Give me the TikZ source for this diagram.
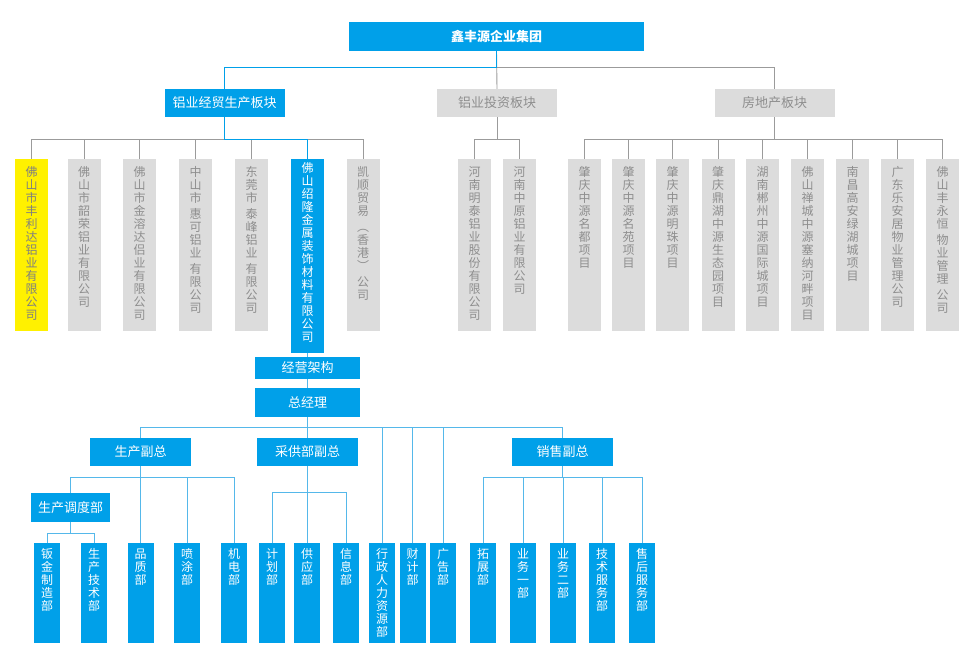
\documentclass[tikz,border=0pt]{standalone}
\usepackage{fontspec}
\newfontfamily\cjk{Noto Sans CJK SC}
\usepackage{xcolor}
\usepackage{tikz}
\definecolor{xfblue}{HTML}{00A0E9}
\definecolor{xfline}{HTML}{55B8EA}
\definecolor{xfgray}{HTML}{DCDCDC}
\definecolor{xfgtext}{HTML}{8E8E8E}
\definecolor{xfgline}{HTML}{9B9B9B}
\definecolor{xfyellow}{HTML}{FFF100}
\def\vgapmark{|}
\makeatletter
\newcommand\vtxt[1]{\vtop{\baselineskip=13pt\lineskiplimit=-20pt
    \@tfor\vch:=#1\do{\ifx\vch\vgapmark\vskip3pt\else\hbox to 12pt{\hss\vch\hss}\fi}}}
\makeatother
\tikzset{
    topbox/.style={fill=xfblue, text=white, inner sep=0pt, font=\cjk\bfseries\fontsize{13}{15}\selectfont},
    bluebox/.style={fill=xfblue, text=white, inner sep=0pt, minimum width=120pt, minimum height=28pt, font=\cjk\fontsize{13}{15}\selectfont},
    graybox/.style={bluebox, fill=xfgray, text=xfgtext},
    gvert/.style={fill=xfgray, text=xfgtext, anchor=north, inner sep=0pt, minimum width=33pt, text height=17pt, text depth=155pt, font=\cjk\fontsize{12}{13}\selectfont},
    yvert/.style={gvert, fill=xfyellow, text=xfgtext!90!black},
    bvert/.style={gvert, fill=xfblue, text=white, text height=13pt, text depth=181pt},
    dvert/.style={fill=xfblue, text=white, anchor=north, inner sep=0pt, minimum width=26pt, text height=15pt, text depth=85pt, font=\cjk\fontsize{12}{13}\selectfont},
    gline/.style={draw=xfgline, line width=0.9pt},
    bline/.style={draw=xfblue, line width=0.9pt},
    lline/.style={draw=xfline, line width=0.9pt}
}

\begin{document}
\begin{tikzpicture}[x=1pt,y=-1pt]
        \useasboundingbox (0,0) rectangle (976,664);
        % group and divisions
        \node[topbox, minimum width=295pt, minimum height=29pt] (grp) at (496.5,36.5) {鑫丰源企业集团};
        \node[bluebox] (alu) at (224.5,103) {铝业经贸生产板块};
        \node[graybox] (inv) at (497,103) {铝业投资板块};
        \node[graybox] (est) at (774.5,103) {房地产板块};

        \node[yvert] (c1) at (31.5,159) {\vtxt{佛山市丰利达铝业有限公司}};
        \node[gvert] (c2) at (84,159) {\vtxt{佛山市韶荣铝业有限公司}};
        \node[gvert] (c3) at (139.5,159) {\vtxt{佛山市金溶达侣业有限公司}};
        \node[gvert] (c4) at (195.5,159) {\vtxt{中山市|惠可铝业|有限公司}};
        \node[gvert] (c5) at (251.5,159) {\vtxt{东莞市|泰峰铝业|有限公司}};
        \node[bvert] (c6) at (307.5,159) {\vtxt{佛山绍隆金属装饰材料有限公司}};
        \node[gvert] (c7) at (363,159) {\vtxt{凯顺贸易|︵香港︶|公司}};

        \node[gvert] (d1) at (474.5,159) {\vtxt{河南明泰铝业股份有限公司}};
        \node[gvert] (d2) at (519.5,159) {\vtxt{河南中原铝业有限公司}};

        \node[gvert] (e1) at (584.5,159) {\vtxt{肇庆中源名都项目}};
        \node[gvert] (e2) at (628.5,159) {\vtxt{肇庆中源名苑项目}};
        \node[gvert] (e3) at (672.5,159) {\vtxt{肇庆中源明珠项目}};
        \node[gvert] (e4) at (718,159) {\vtxt{肇庆鼎湖中源生态园项目}};
        \node[gvert] (e5) at (762.5,159) {\vtxt{湖南郴州中源国际城项目}};
        \node[gvert] (e6) at (807.5,159) {\vtxt{佛山禅城中源塞纳河畔项目}};
        \node[gvert] (e7) at (852.5,159) {\vtxt{南昌高安绿湖城项目}};
        \node[gvert] (e8) at (897.5,159) {\vtxt{广东乐安居物业管理公司}};
        \node[gvert] (e9) at (942.5,159) {\vtxt{佛山丰永恒|物业管理|公司}};

        \draw[gline] (grp.south) -- ++(0,16) -| (est.north);
        \draw[gline] (grp.south) -- (inv.north);
        \draw[bline] (grp.south) -- ++(0,16) -| (alu.north);
        \foreach \c in {c1,c2,c3,c4,c5,c7}
            \draw[gline] (alu.south) -- ++(0,22) -| (\c.north);
        \draw[bline] (alu.south) -- ++(0,22) -| (c6.north);
        \foreach \c in {d1,d2}
            \draw[gline] (inv.south) -- ++(0,22) -| (\c.north);
        \foreach \c in {e1,e2,e3,e4,e5,e6,e7,e8,e9}
            \draw[gline] (est.south) -- ++(0,22) -| (\c.north);

        % management structure
        \node[bluebox, minimum width=105pt, minimum height=22pt] (ops) at (307.5,368) {经营架构};
        \node[bluebox, minimum width=105pt, minimum height=29pt] (gm) at (307.5,402.5) {总经理};
        \node[bluebox, minimum width=101pt] (vp1) at (140.5,452) {生产副总};
        \node[bluebox, minimum width=101pt] (vp2) at (307.5,452) {采供部副总};
        \node[bluebox, minimum width=101pt] (vp3) at (562.5,452) {销售副总};
        \node[bluebox, minimum width=79pt, minimum height=29pt] (sch) at (70.5,507.5) {生产调度部};

        \node[dvert] (f1) at (47,543) {\vtxt{钣金制造部}};
        \node[dvert] (f2) at (94,543) {\vtxt{生产技术部}};
        \node[dvert] (f3) at (140.5,543) {\vtxt{品质部}};
        \node[dvert] (f4) at (187,543) {\vtxt{喷涂部}};
        \node[dvert] (f5) at (234,543) {\vtxt{机电部}};
        \node[dvert] (f6) at (272,543) {\vtxt{计划部}};
        \node[dvert] (f7) at (307,543) {\vtxt{供应部}};
        \node[dvert] (f8) at (346,543) {\vtxt{信息部}};
        \node[dvert] (f9) at (382,543) {\vtxt{行政人力资源部}};
        \node[dvert] (f10) at (412.5,543) {\vtxt{财计部}};
        \node[dvert] (f11) at (443,543) {\vtxt{广告部}};
        \node[dvert] (f12) at (483,543) {\vtxt{拓展部}};
        \node[dvert] (f13) at (523,543) {\vtxt{业务一部}};
        \node[dvert] (f14) at (563,543) {\vtxt{业务二部}};
        \node[dvert] (f15) at (602,543) {\vtxt{技术服务部}};
        \node[dvert] (f16) at (642,543) {\vtxt{售后服务部}};

        \draw[lline] (c6.south) -- (ops.north);
        \draw[lline] (ops.south) -- (gm.north);
        \foreach \c in {vp1,vp2,vp3,f9,f10,f11}
            \draw[lline] (gm.south) -- ++(0,10) -| (\c.north);
        \foreach \c in {sch,f3,f4,f5}
            \draw[lline] (vp1.south) -- ++(0,11) -| (\c.north);
        \foreach \c in {f1,f2}
            \draw[lline] (sch.south) -- ++(0,11) -| (\c.north);
        \foreach \c in {f6,f7,f8}
            \draw[lline] (vp2.south) -- ++(0,26) -| (\c.north);
        \foreach \c in {f12,f13,f14,f15,f16}
            \draw[lline] (vp3.south) -- ++(0,11) -| (\c.north);
\end{tikzpicture}
\end{document}
